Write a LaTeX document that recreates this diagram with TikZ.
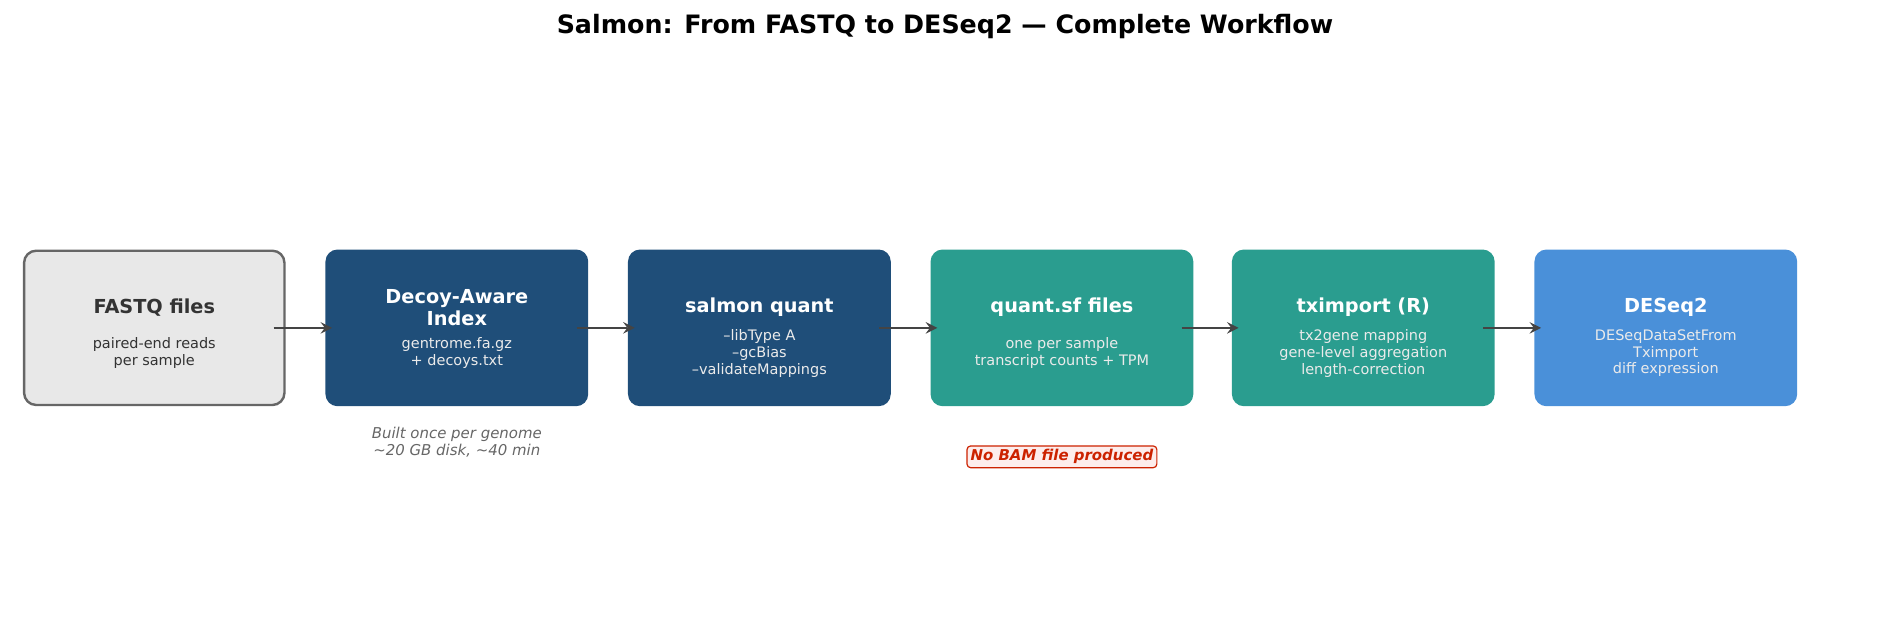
\documentclass[tikz,border=0pt]{standalone}
\usepackage{fontspec}
\setmainfont{DejaVu Sans}
\definecolor{dblue}{HTML}{1F4E79}
\definecolor{teal}{HTML}{2A9D8F}
\definecolor{lblue}{HTML}{4A90D9}
\definecolor{gfill}{HTML}{E8E8E8}
\definecolor{gline}{HTML}{666666}
\definecolor{dtext}{HTML}{333333}
\definecolor{arr}{HTML}{444444}
\definecolor{note}{HTML}{666666}
\definecolor{redt}{HTML}{CC2200}
\definecolor{redf}{HTML}{FDEDEC}
\begin{document}
\begin{tikzpicture}[x=0.5pt,y=-0.5pt,
 box/.style={rounded corners=5pt,minimum width=109pt,minimum height=65pt,inner sep=0pt,align=center,text=white},
 hd/.style={font=\fontsize{8}{9}\selectfont\bfseries},
 sub/.style={font=\fontsize{6}{7}\selectfont},
 ar/.style={-stealth,line width=1.1pt,draw=arr}]
\useasboundingbox (0,0) rectangle (1568,534);
\node[font=\fontsize{10.5}{12}\selectfont\bfseries] (title) at (784,22) {Salmon: From FASTQ to DESeq2 — Complete Workflow};
\node[box,fill=gfill,draw=gline,line width=1pt,text=dtext,minimum width=108pt,minimum height=64pt] (b1) at (128,272) {};
\node[hd,text=dtext] at (128,255) {FASTQ files};
\node[sub,text=dtext,align=center] at (128,293) {paired-end reads\\per sample};
\node[box,fill=dblue] (b2) at (379,272) {};
\node[hd,text=white,align=center] at (379,255) {Decoy-Aware\\Index};
\node[sub,text=white!92!black,align=center] at (379,293) {gentrome.fa.gz\\+ decoys.txt};
\node[box,fill=dblue] (b3) at (630,272) {};
\node[hd,text=white] at (630,255) {salmon quant};
\node[sub,text=white!92!black,align=center] at (630,293) {--libType A\\--gcBias\\--validateMappings};
\node[box,fill=teal] (b4) at (881,272) {};
\node[hd,text=white] at (881,255) {quant.sf files};
\node[sub,text=white!92!black,align=center] at (881,293) {one per sample\\transcript counts + TPM};
\node[box,fill=teal] (b5) at (1131,272) {};
\node[hd,text=white] at (1131,255) {tximport (R)};
\node[sub,text=white!92!black,align=center] at (1131,293) {tx2gene mapping\\gene-level aggregation\\length-correction};
\node[box,fill=lblue] (b6) at (1382,272) {};
\node[hd,text=white] at (1382,255) {DESeq2};
\node[sub,text=white!92!black,align=center] at (1382,293) {DESeqDataSetFrom\\Tximport\\diff expression};
\foreach \a/\b in {b1/b2,b2/b3,b3/b4,b4/b5,b5/b6}
  \draw[ar] ([xshift=-5pt]\a.east) -- ([xshift=3pt]\b.west);
\node[sub,font=\fontsize{6.2}{7}\selectfont\itshape,text=note,align=center] (n1) at (379,367) {Built once per genome\\\textasciitilde20 GB disk, \textasciitilde40 min};
\node[font=\fontsize{6.2}{7}\selectfont\bfseries\itshape,text=redt,fill=redf,draw=redt,line width=0.5pt,rounded corners=1.5pt,inner sep=1.5pt] (n2) at (881,379) {No BAM file produced};
\end{tikzpicture}
\end{document}
